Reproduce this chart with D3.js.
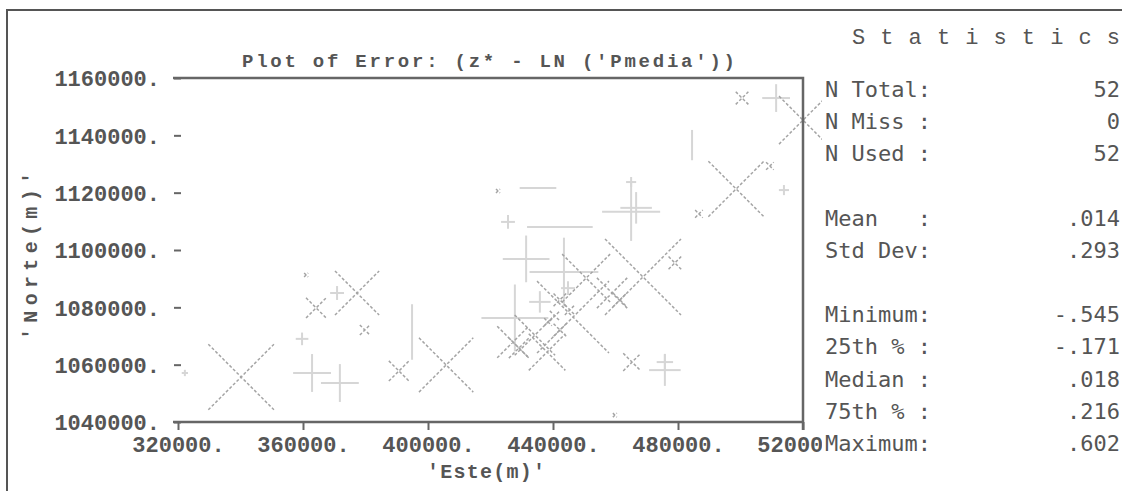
<!DOCTYPE html>
<html>
<head>
<meta charset="utf-8">
<script src="https://cdn.jsdelivr.net/npm/d3@7"></script>
<style>
  body { margin: 0; background: #fff; }
  svg { display: block; }
  text { fill: #555; }
</style>
</head>
<body>
<svg id="chart" width="1131" height="491"></svg>
<script>
// sample locations and errors (z* - LN('Pmedia')), negatives first
var east = [322200, 359700, 370900, 362900, 371800, 425600, 431400, 443500, 427800, 435800,
            444800, 465000, 465000, 466600, 475800, 475800, 513900, 511400, 484500, 435200,
            442200, 394900,
            340200, 364200, 377300, 379800, 390700, 405800, 468800, 479000, 458900, 461400,
            465300, 498600, 509400, 486700, 500500, 520000, 446400, 450600, 427200, 429100,
            438100, 434200, 440600, 442200, 445400, 438400, 442200, 361000, 422400, 459800];
var north = [1057100, 1069000, 1085000, 1057100, 1053600, 1109800, 1096900, 1092300, 1076300, 1081900,
             1086700, 1123700, 1113300, 1114700, 1058100, 1060900, 1120900, 1153000, 1136600, 1121600,
             1108000, 1071400,
             1055700, 1079800, 1085000, 1072100, 1057800, 1059900, 1090600, 1095500, 1085000, 1082600,
             1060900, 1121300, 1129300, 1112600, 1153000, 1145300, 1076600, 1090200, 1067900, 1065800,
             1064400, 1070300, 1077000, 1072100, 1079100, 1074900, 1082600, 1091300, 1120600, 1042400];
var err = [-0.05, -0.10, -0.11, -0.30, -0.30, -0.11, -0.37, -0.545, -0.53, -0.17,
           -0.11, -0.08, -0.46, -0.25, -0.25, -0.13, -0.08, -0.22, -0.24, -0.29,
           -0.52, -0.44,
           0.52, 0.16, 0.35, 0.08, 0.16, 0.43, 0.602, 0.10, 0.24, 0.11,
           0.14, 0.44, 0.06, 0.06, 0.10, 0.38, 0.57, 0.38, 0.25, 0.16,
           0.29, 0.32, 0.08, 0.10, 0.08, 0.06, 0.10, 0.03, 0.03, 0.03];
// which arms of a '+' show up (a few only print one stroke)
var arms = {18: "v", 19: "h", 20: "h", 21: "v"};

var xTicks = [320000, 360000, 400000, 440000, 480000, 520000];
var yTicks = [1040000, 1060000, 1080000, 1100000, 1120000, 1140000, 1160000];

var statLabels = ["N Total:", "N Miss :", "N Used :", "Mean   :", "Std Dev:",
                  "Minimum:", "25th % :", "Median :", "75th % :", "Maximum:"];
var statValues = ["52", "0", "52", ".014", ".293", "-.545", "-.171", ".018", ".216", ".602"];
var statRows = [0, 1, 2, 4, 5, 7, 8, 9, 10, 11];

var svg = d3.select("#chart");
var pLeft = 173, pRight = 803, pTop = 78, pBottom = 422;

var x = d3.scaleLinear().domain([320000, 520000]).range([178, pRight]);
var y = d3.scaleLinear().domain([1040000, 1160000]).range([pBottom, pTop]);
var r = d3.scaleLinear().domain([0, 0.602]).range([0, 38]);

// outer frame
svg.append("path")
  .attr("d", "M7,491 L7,10 L1122,10")
  .attr("fill", "none").attr("stroke", "#555").attr("stroke-width", 2);

var mono = "'Liberation Mono', 'DejaVu Sans Mono', monospace";

svg.append("text")
  .attr("x", 242).attr("y", 67)
  .attr("textLength", 493).attr("lengthAdjust", "spacing")
  .style("font-family", mono).style("font-size", "19px").style("font-weight", "bold")
  .text("Plot of Error: (z* - LN ('Pmedia'))");

// markers
var pts = east.map(function(e, i) { return {e: e, n: north[i], v: err[i], i: i}; });
var g = svg.append("g");

pts.filter(function(d) { return d.v < 0; }).forEach(function(d) {
  var cx = x(d.e), cy = y(d.n), s = r(-d.v), a = arms[d.i] || "both";
  if (a != "v")
    g.append("line").attr("x1", cx - s).attr("x2", cx + s).attr("y1", cy).attr("y2", cy)
      .attr("stroke", "#d6d6d6").attr("stroke-width", 2);
  if (a != "h")
    g.append("line").attr("x1", cx).attr("x2", cx).attr("y1", cy - s).attr("y2", cy + s)
      .attr("stroke", "#d6d6d6").attr("stroke-width", 2);
});

pts.filter(function(d) { return d.v >= 0; }).forEach(function(d) {
  var cx = x(d.e), cy = y(d.n), s = Math.max(r(d.v), 2);
  g.append("path")
    .attr("d", "M" + (cx - s) + "," + (cy - s) + "L" + (cx + s) + "," + (cy + s) +
               "M" + (cx - s) + "," + (cy + s) + "L" + (cx + s) + "," + (cy - s))
    .attr("fill", "none").attr("stroke", "#a4a4a4").attr("stroke-width", 1.5)
    .attr("stroke-dasharray", "3,2");
});

// plot frame (no left side)
svg.append("path")
  .attr("d", "M" + pLeft + "," + pTop + "L" + pRight + "," + pTop + "L" + pRight + "," + (pBottom + 8) +
             "M" + pLeft + "," + pBottom + "L" + pRight + "," + pBottom)
  .attr("fill", "none").attr("stroke", "#666").attr("stroke-width", 2.5);

// axes
var yAxis = svg.append("g")
  .attr("transform", "translate(" + (pLeft + 1) + ",0)")
  .call(d3.axisLeft(y).tickValues(yTicks).tickSize(-7).tickPadding(14)
    .tickFormat(function(d) { return d + "."; }));
yAxis.select(".domain").remove();
yAxis.selectAll(".tick line").attr("stroke", "#666").attr("stroke-width", 2);
yAxis.selectAll(".tick text")
  .style("font-family", mono).style("font-size", "22px").style("font-weight", "bold")
  .attr("fill", "#555").attr("dy", "0.36em");

var xAxis = svg.append("g")
  .attr("transform", "translate(0," + pBottom + ")")
  .call(d3.axisBottom(x).tickValues(xTicks).tickSize(8).tickPadding(6)
    .tickFormat(function(d) { return d + "."; }));
xAxis.select(".domain").remove();
xAxis.selectAll(".tick line").attr("stroke", "#666").attr("stroke-width", 2);
xAxis.selectAll(".tick text")
  .style("font-family", mono).style("font-size", "22px").style("font-weight", "bold")
  .attr("fill", "#555");

svg.append("text")
  .attr("x", 427).attr("y", 478)
  .attr("textLength", 118).attr("lengthAdjust", "spacing")
  .style("font-family", mono).style("font-size", "20px").style("font-weight", "bold")
  .text("'Este(m)'");

svg.append("text")
  .attr("transform", "translate(37,340) rotate(-90)")
  .attr("textLength", 168).attr("lengthAdjust", "spacing")
  .style("font-family", mono).style("font-size", "20px").style("font-weight", "bold")
  .text("'Norte(m)'");

// statistics panel
svg.append("rect").attr("x", 822).attr("y", 76).attr("width", 300).attr("height", 385)
  .attr("fill", "#fff");

svg.append("text")
  .attr("x", 852).attr("y", 44)
  .attr("textLength", 268).attr("lengthAdjust", "spacing")
  .style("font-family", mono).style("font-size", "22px")
  .text("Statistics");

var rowY = d3.scaleLinear().domain([0, 11]).range([89, 443]);
var stats = svg.append("g").style("font-family", "'DejaVu Sans Mono', monospace").style("font-size", "22px");
statLabels.forEach(function(l, i) {
  stats.append("text").attr("x", 825).attr("y", rowY(statRows[i])).attr("dy", "0.36em")
    .attr("xml:space", "preserve").style("white-space", "pre").text(l);
  stats.append("text").attr("x", 1120).attr("y", rowY(statRows[i])).attr("dy", "0.36em")
    .attr("text-anchor", "end").text(statValues[i]);
});
</script>
</body>
</html>
